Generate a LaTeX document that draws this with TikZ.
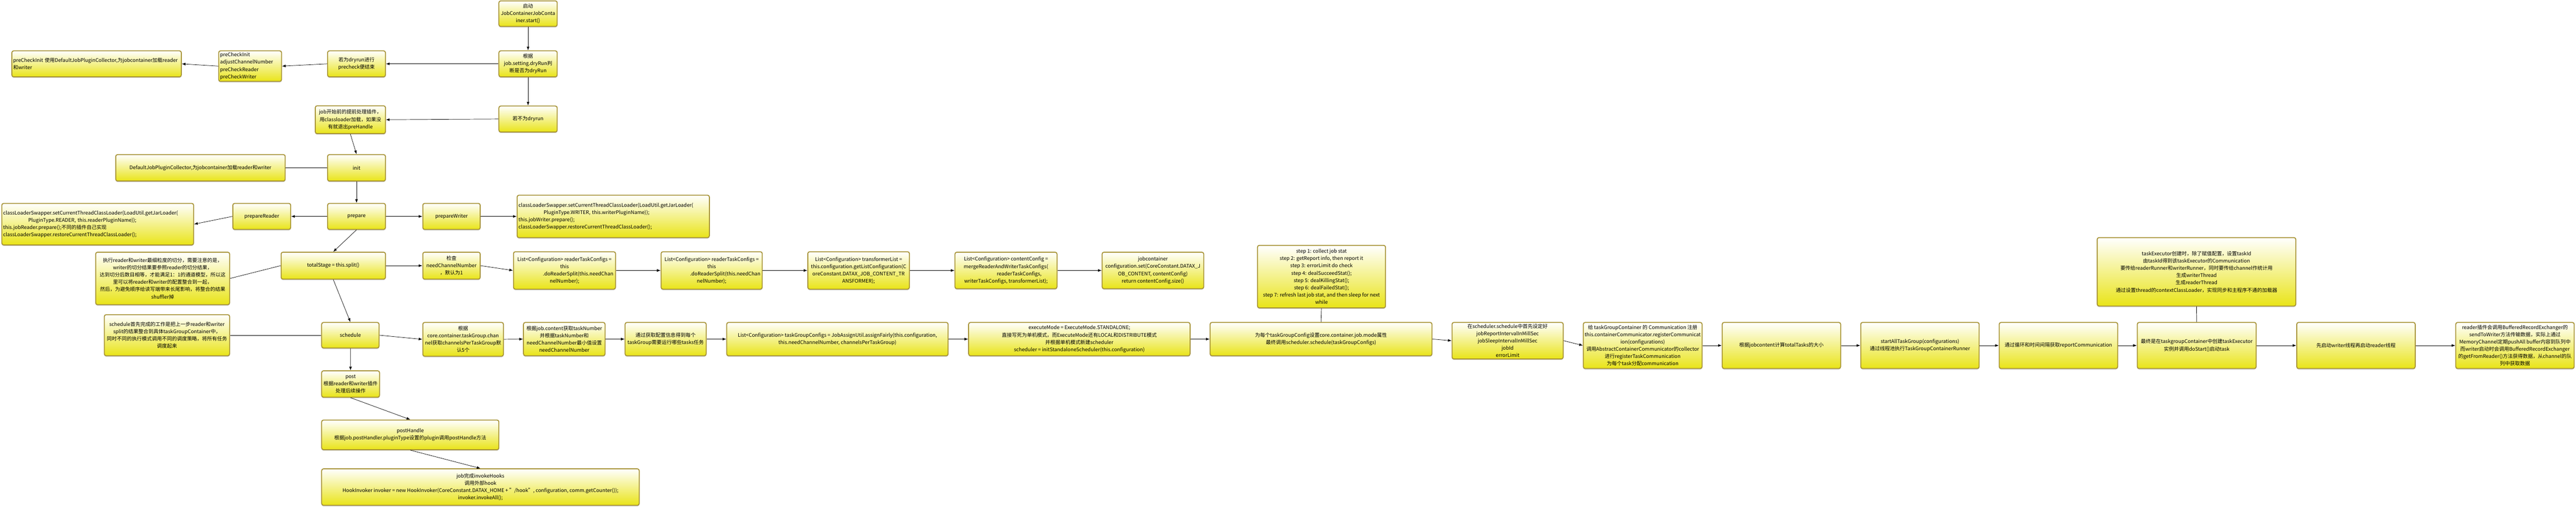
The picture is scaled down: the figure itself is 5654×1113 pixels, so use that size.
\documentclass[tikz,border=0pt]{standalone}
\usepackage{fontspec}
\setmainfont{Noto Sans CJK SC}
\usetikzlibrary{arrows.meta,shadows}

\definecolor{boxedge}{RGB}{166,146,52}
\definecolor{boxyellow}{RGB}{233,228,24}

\tikzset{
  box/.style={draw=boxedge, line width=2pt, rounded corners=4pt,
    top color=white, bottom color=boxyellow,
    drop shadow={shadow xshift=0pt, shadow yshift=-2.5pt, opacity=0.3},
    align=center, inner sep=3pt, font=\fontsize{11pt}{16pt}\selectfont},
  leftbox/.style={box, align=left},
  flow/.style={-{Latex[length=8pt,width=6pt]}, line width=0.8pt},
  link/.style={line width=0.8pt},
}

\begin{document}
\begin{tikzpicture}[x=1pt,y=-1pt]
\fill[white] (0,0) rectangle (5654,1113);

%start
\node[box, minimum width=128pt, minimum height=56pt] (start) at (1159,30) {启动\\JobContainerJobConta\\iner.start()};
\node[box, minimum width=128pt, minimum height=57pt] (dryrun) at (1159,140) {根据\\job.setting.dryRun判\\断是否为dryRun};
\node[box, minimum width=128pt, minimum height=57pt] (notdry) at (1159,261) {若不为dryrun};
\node[box, minimum width=127pt, minimum height=57pt] (isdry) at (782.5,140) {若为dryrun进行\\precheck便结束};
\node[leftbox, text width=132pt, minimum height=67pt] (precheck) at (549,145) {preCheckInit\\adjustChannelNumber\\preCheckReader\\preCheckWriter};
\node[leftbox, text width=366pt, minimum height=57pt] (precheckinit) at (212,140) {preCheckInit~使用DefaultJobPluginCollector,为jobcontainer加载reader\\和writer};

%init
\node[box, minimum width=154pt, minimum height=61pt] (prehandle) at (769,262.5) {job开始前的提前处理插件，\\用classloader加载，如果没\\有就退出preHandle};
\node[box, minimum width=127pt, minimum height=58pt] (init) at (782.5,368) {init};
\node[box, minimum width=372pt, minimum height=58pt] (collector) at (440,368) {DefaultJobPluginCollector,为jobcontainer加载reader和writer};

%prepare
\node[box, minimum width=127pt, minimum height=57pt] (prepare) at (782.5,474.5) {prepare};
\node[box, minimum width=127pt, minimum height=57pt] (prepreader) at (574.5,474.5) {prepareReader};
\node[leftbox, text width=415pt, minimum height=91pt] (readerload) at (214.5,491.5) {classLoaderSwapper.setCurrentThreadClassLoader(LoadUtil.getJarLoader(\\\hspace*{55pt}PluginType.READER, this.readerPluginName));\\this.jobReader.prepare();不同的插件自己实现\\classLoaderSwapper.restoreCurrentThreadClassLoader();};
\node[box, minimum width=126pt, minimum height=57pt] (prepwriter) at (991,474.5) {prepareWriter};
\node[leftbox, text width=416pt, minimum height=93pt] (writerload) at (1346,474.5) {classLoaderSwapper.setCurrentThreadClassLoader(LoadUtil.getJarLoader(\\\hspace*{55pt}PluginType.WRITER, this.writerPluginName));\\this.jobWriter.prepare();\\classLoaderSwapper.restoreCurrentThreadClassLoader();};

%split
\node[box, minimum width=229pt, minimum height=59pt] (split) at (731.5,582.5) {totalStage = this.split()};
\node[box, minimum width=294pt, minimum height=115pt] (splitnote) at (357,610.5) {执行reader和writer最细粒度的切分，需要注意的是，\\writer的切分结果要参照reader的切分结果，\\达到切分后数目相等，才能满足1：1的通道模型，所以这\\里可以将reader和writer的配置整合到一起，\\然后，为避免顺序给读写端带来长尾影响，将整合的结果\\shuffler掉};
\node[box, minimum width=126pt, minimum height=59pt] (check) at (991,582.5) {检查\\needChannelNumber\\，默认为1};
\node[box, minimum width=224pt, minimum height=82pt] (rsplit) at (1239,593) {List<Configuration> readerTaskConfigs =\\this\\\hspace*{60pt}.doReaderSplit(this.needChan\\nelNumber);};
\node[box, minimum width=222pt, minimum height=82pt] (wsplit) at (1562,593) {List<Configuration> readerTaskConfigs =\\this\\\hspace*{60pt}.doReaderSplit(this.needChan\\nelNumber);};
\node[box, minimum width=223pt, minimum height=82pt] (transformer) at (1884.5,593) {List<Configuration> transformerList =\\this.configuration.getListConfiguration(C\\oreConstant.DATAX\_JOB\_CONTENT\_TR\\ANSFORMER);};
\node[box, minimum width=224pt, minimum height=80pt] (merge) at (2208,593) {List<Configuration> contentConfig =\\mergeReaderAndWriterTaskConfigs(\\\hspace*{58pt}readerTaskConfigs,\\writerTaskConfigs, transformerList);};
\node[box, minimum width=223pt, minimum height=80pt] (jobcontainer) at (2530.5,593) {jobcontainer\\configuration.set(CoreConstant.DATAX\_J\\OB\_CONTENT, contentConfig)\\return contentConfig.size()};
\node[box, minimum width=281pt, minimum height=137pt] (steps) at (2900.5,606.5) {step 1: collect job stat\\step 2: getReport info, then report it\\step 3: errorLimit do check\\step 4: dealSucceedStat();\\step 5: dealKillingStat();\\step 6: dealFailedStat();\\step 7: refresh last job stat, and then sleep for next\\while};

%schedule
\node[box, minimum width=126pt, minimum height=56pt] (schedule) at (769,735) {schedule};
\node[box, minimum width=275pt, minimum height=90pt] (schednote) at (366.5,735) {schedule首先完成的工作是把上一步reader和writer\\split的结果整合到具体taskGroupContainer中，\\同时不同的执行模式调用不同的调度策略，将所有任务\\调度起来};
\node[box, minimum width=177pt, minimum height=74pt] (channels) at (1016.5,744) {根据\\core.container.taskGroup.chan\\nel获取channelsPerTaskGroup默\\认5个};
\node[box, minimum width=179pt, minimum height=73pt] (tasknum) at (1238.5,743.5) {根据job.content获取taskNumber\\并根据taskNumber和\\needChannelNumber最小值设置\\needChannelNumber};
\node[box, minimum width=178pt, minimum height=73pt] (tasks) at (1461,743.5) {通过获取配置信息得到每个\\taskGroup需要运行哪些tasks任务};
\node[box, minimum width=486pt, minimum height=73pt] (assign) at (1838,743.5) {List<Configuration> taskGroupConfigs = JobAssignUtil.assignFairly(this.configuration,\\this.needChannelNumber, channelsPerTaskGroup)};
\node[box, minimum width=486pt, minimum height=73pt] (mode) at (2369,743.5) {executeMode = ExecuteMode.STANDALONE;\\直接写死为单机模式，而ExecuteMode还有LOCAL和DISTRIBUTE模式\\并根据单机模式新建scheduler\\scheduler = initStandaloneScheduler(this.configuration)};
\node[box, minimum width=487pt, minimum height=73pt] (setmode) at (2899.5,743.5) {为每个taskGroupConfig设置core.container.job.mode属性\\最终调用scheduler.schedule(taskGroupConfigs)};
\node[box, minimum width=244pt, minimum height=80pt] (interval) at (3309,747) {在scheduler.schedule中首先设定好\\jobReportIntervalInMillSec\\jobSleepIntervalInMillSec\\jobId\\errorLimit};
\node[box, minimum width=259pt, minimum height=101pt] (register) at (3605.5,757.5) {给 taskGroupContainer 的 Communication 注册\\this.containerCommunicator.registerCommunicat\\ion(configurations)\\调用AbstractContainerCommunicator的collector\\进行registerTaskCommunication\\为每个task分配communication};
\node[box, minimum width=260pt, minimum height=101pt] (total) at (3910,757.5) {根据jobcontent计算totalTasks的大小};
\node[box, minimum width=260pt, minimum height=101pt] (startall) at (4214,757.5) {startAllTaskGroup(configurations)\\通过线程池执行TaskGroupContainerRunner};
\node[box, minimum width=260pt, minimum height=101pt] (loop) at (4518,757.5) {通过循环和时间间隔获取reportCommunication};
\node[box, minimum width=261pt, minimum height=101pt] (executor) at (4821.5,757.5) {最终是在taskgroupContainer中创建taskExecutor\\实例并调用doStart()启动task};
\node[box, minimum width=260pt, minimum height=101pt] (launch) at (5171,757.5) {先启动writer线程再启动reader线程};
\node[box, minimum width=260pt, minimum height=101pt] (exchange) at (5520,757.5) {reader插件会调用BufferedRecordExchanger的\\sendToWriter方法传输数据，实际上通过\\MemoryChannel定期pushAll buffer内容到队列中\\而writer启动时会调用BufferedRecordExchanger\\的getFromReader()方法获得数据，从channel的队\\列中获取数据};
\node[box, minimum width=436pt, minimum height=150pt] (execnote) at (4821,596) {taskExecutor创建时，除了赋值配置，设置taskId\\由taskId得到该taskExecutor的Communication\\要传给readerRunner和writerRunner，同时要传给channel作统计用\\生成writerThread\\生成readerThread\\通过设置thread的contextClassLoader，实现同步和主程序不通的加载器};

%post
\node[box, minimum width=127pt, minimum height=58pt] (post) at (769.5,842) {post\\根据reader和writer插件\\处理后续操作};
\node[box, minimum width=389pt, minimum height=65pt] (posthandle) at (900.5,953.5) {postHandle\\根据job.postHandler.pluginType设置的plugin调用postHandle方法};
\node[box, minimum width=697pt, minimum height=80pt] (hooks) at (1054.5,1068) {job完成invokeHooks\\调用外部hook\\HookInvoker invoker = new HookInvoker(CoreConstant.DATAX\_HOME + "/hook", configuration, comm.getCounter());\\invoker.invokeAll();};

%strzalki
\draw[flow] (start) -- (dryrun);
\draw[flow] (dryrun) -- (notdry);
\draw[flow] (dryrun) -- (isdry);
\draw[flow] (isdry.west) -- (precheck.east);
\draw[flow] (precheck.west) -- (precheckinit.east);
\draw[flow] (notdry.west) -- (prehandle.east);
\draw[flow] (prehandle.south) -- (init.north);
\draw[link] (init) -- (collector);
\draw[flow] (init) -- (prepare);
\draw[flow] (prepare) -- (prepreader);
\draw[flow] (prepreader.west) -- (readerload.east);
\draw[flow] (prepare) -- (prepwriter);
\draw[flow] (prepwriter.east) -- (writerload.west);
\draw[flow] (prepare.south) -- (split.north);
\draw[flow] (split) -- (check);
\draw[link] (split.west) -- (splitnote.east);
\draw[flow] (check.east) -- (rsplit.west);
\foreach \a/\b in {rsplit/wsplit,wsplit/transformer,transformer/merge,merge/jobcontainer}
  \draw[flow] (\a.east) -- (\b.west);
\draw[flow] (split.south) -- (schedule.north);
\draw[link] (schedule) -- (schednote);
\draw[flow] (schedule.east) -- (channels.west);
\foreach \a/\b in {channels/tasknum,tasknum/tasks,tasks/assign,assign/mode,mode/setmode}
  \draw[flow] (\a.east) -- (\b.west);
\draw[link] (steps.south) -- (setmode.north);
\draw[flow] (setmode.east) -- (interval.west);
\draw[flow] (interval.east) -- (register.west);
\foreach \a/\b in {register/total,total/startall,startall/loop,loop/executor,executor/launch,launch/exchange}
  \draw[flow] (\a.east) -- (\b.west);
\draw[link] (execnote.south) -- (executor.north);
\draw[flow] (schedule) -- (post);
\draw[flow] (post.south) -- (posthandle.north);
\draw[flow] (posthandle.south) -- (hooks.north);
\end{tikzpicture}
\end{document}
